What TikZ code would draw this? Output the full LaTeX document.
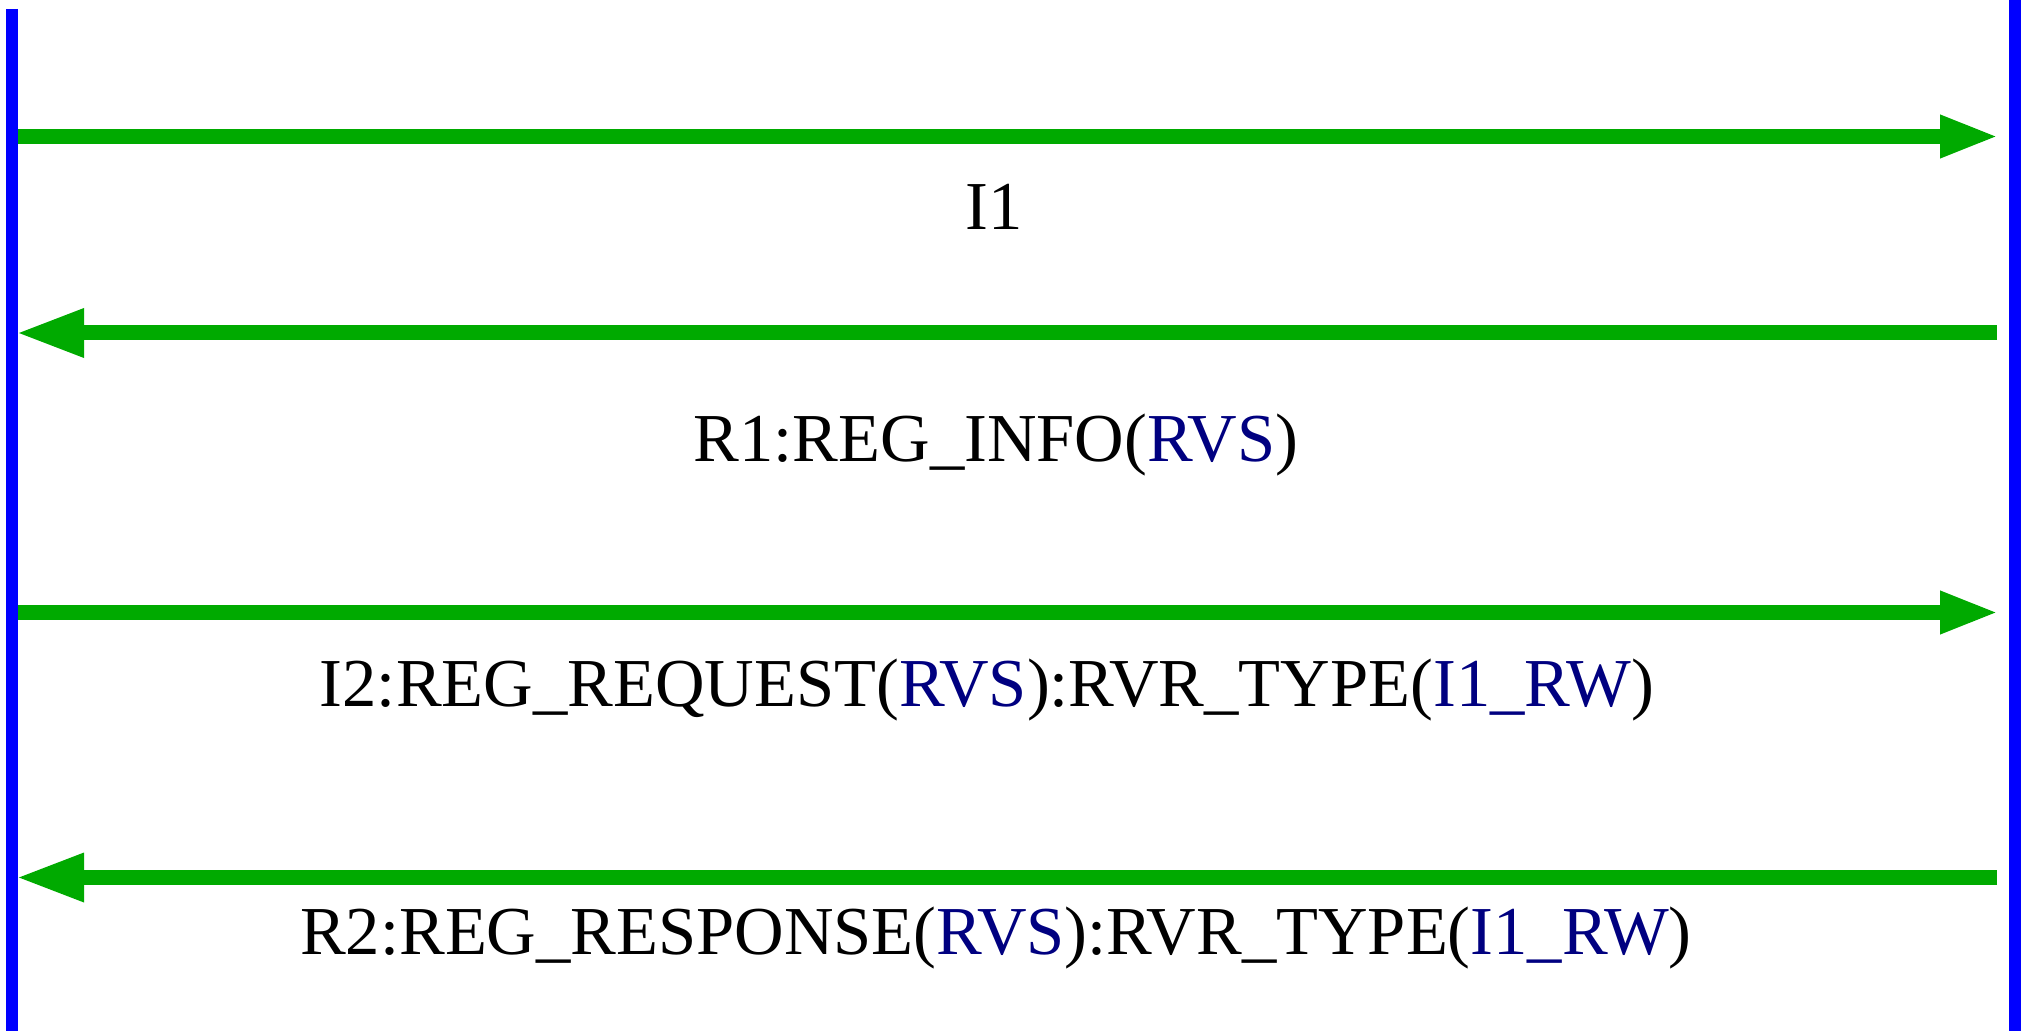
\documentclass[tikz,border=0pt]{standalone}
\usepackage{fontspec}
\setmainfont{Liberation Serif}
\usetikzlibrary{arrows.meta}
\definecolor{lifeblue}{RGB}{0,0,255}
\definecolor{msggreen}{RGB}{0,170,0}
\definecolor{argblue}{RGB}{0,0,128}
\begin{document}
\begin{tikzpicture}[x=0.5pt,y=-0.5pt,
  lifeline/.style={draw=lifeblue,line width=6pt},
  msgR/.style={draw=msggreen,line width=7.5pt,-{Triangle[length=29.5pt,width=19.5pt]}},
  msgL/.style={draw=msggreen,line width=7.5pt,-{Triangle[length=34pt,width=22.5pt]}},
  lbl/.style={anchor=base,inner sep=0pt,font=\fontsize{34.3}{40}\selectfont},
  arg/.style={text=argblue}]
\useasboundingbox (0,0) rectangle (2022,1031);
% lifelines
\coordinate (Ltop) at (12,9);
\coordinate (Lbot) at (12,1031);
\coordinate (Rtop) at (2015,0);
\coordinate (Rbot) at (2015,1031);
\draw[lifeline] (Ltop) -- (Lbot);
\draw[lifeline] (Rtop) -- (Rbot);
% message end points
\coordinate (m1s) at (18,136.5);   \coordinate (m1e) at (1999,136.5);
\coordinate (m2s) at (1997,333);   \coordinate (m2e) at (16,333);
\coordinate (m3s) at (18,612.5);   \coordinate (m3e) at (1999,612.5);
\coordinate (m4s) at (1997,877.5); \coordinate (m4e) at (16,877.5);
\draw[msgR] (m1s) -- (m1e);
\draw[msgL] (m2s) -- (m2e);
\draw[msgR] (m3s) -- (m3e);
\draw[msgL] (m4s) -- (m4e);
% labels
\node[lbl] (l1) at (994,229.5) {I1};
\node[lbl] (l2) at (996,461.5) {R1:REG\_INFO(\textcolor{argblue}{RVS})};
\node[lbl] (l3) at (987,706.5) {I2:REG\_REQUEST(\textcolor{argblue}{RVS}):RVR\_TYPE(\textcolor{argblue}{I1\_RW})};
\node[lbl] (l4) at (996,954) {R2:REG\_RESPONSE(\textcolor{argblue}{RVS}):RVR\_TYPE(\textcolor{argblue}{I1\_RW})};
\end{tikzpicture}
\end{document}
